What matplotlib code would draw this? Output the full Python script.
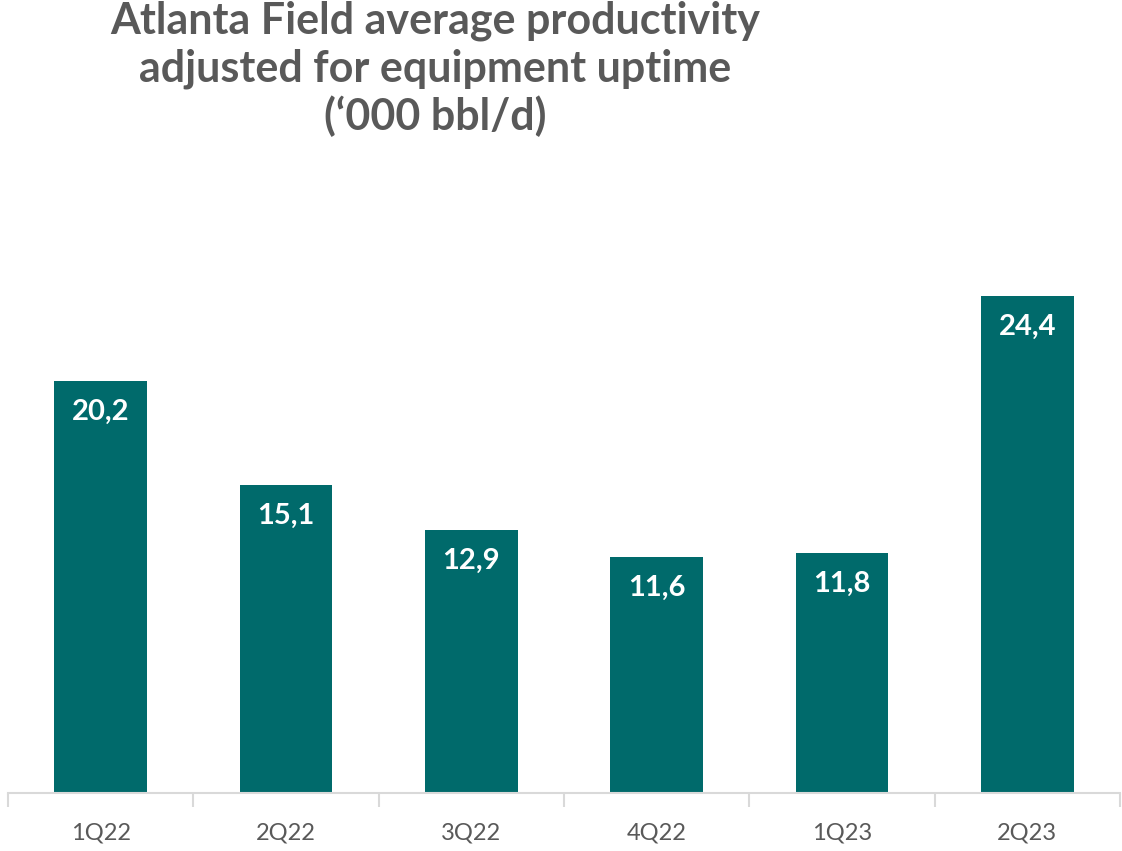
import matplotlib
matplotlib.use("Agg")
import matplotlib.pyplot as plt
import numpy as np

categories = ["1Q22", "2Q22", "3Q22", "4Q22", "1Q23", "2Q23"]
values = [20.2, 15.1, 12.9, 11.6, 11.8, 24.4]
labels = ["20,2", "15,1", "12,9", "11,6", "11,8", "24,4"]
title = "Atlanta Field average productivity\nadjusted for equipment uptime\n(‘000 bbl/d)"

W, H = 1122, 851
fig = plt.figure(figsize=(W / 100, H / 100), dpi=100)
ax = fig.add_axes([8 / W, (H - 793) / H, (1120 - 8) / W, (793 - 170) / H])

bar_color = "#006A6B"
x = np.arange(len(categories))
bars = ax.bar(x, values, width=0.5, color=bar_color, zorder=2)
ax.set_xlim(-0.5, len(categories) - 0.5)
ax.set_ylim(0, 30.57)

for xi, v, lab in zip(x, values, labels):
    ax.annotate(lab, (xi, v), xytext=(0, -31), textcoords="offset pixels",
                ha="center", va="center", color="white", fontsize=21, fontweight="bold",
                family=["Lato", "DejaVu Sans"])

for s in ["top", "right", "left"]:
    ax.spines[s].set_visible(False)
ax.spines["bottom"].set_color("#D9D9D9")
ax.spines["bottom"].set_linewidth(1.5)
ax.set_yticks([])
ax.set_xticks(x)
ax.set_xticklabels(categories, fontsize=17, color="#595959", family=["Lato", "DejaVu Sans"])
ax.tick_params(axis="x", which="major", length=0, pad=21)
ax.set_xticks(np.arange(-0.5, len(categories)), minor=True)
ax.tick_params(axis="x", which="minor", length=10, width=1.5, color="#D9D9D9")

fig.text(435 / W, 1 - 69 / H, title, ha="center", va="center", fontsize=31, fontweight="bold",
         color="#595959", family=["Lato", "DejaVu Sans"], linespacing=1.2)

fig.savefig("out.png", dpi=100, facecolor="white")
